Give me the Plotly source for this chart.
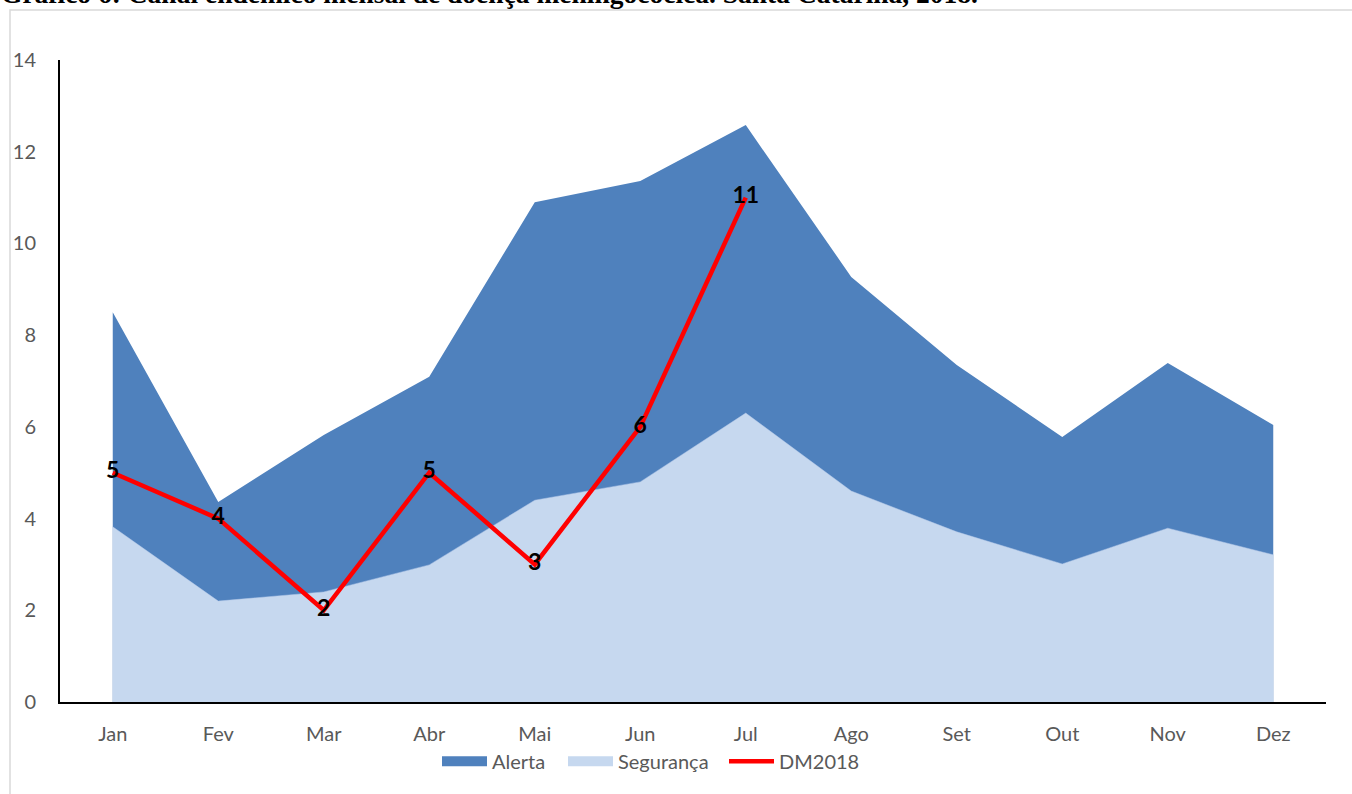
import plotly.graph_objects as go

# Canal endêmico mensal - doença meningocócica, SC 2018
meses = ["Jan", "Fev", "Mar", "Abr", "Mai", "Jun", "Jul", "Ago", "Set", "Out", "Nov", "Dez"]
alerta = [8.50, 4.36, 5.82, 7.09, 10.90, 11.36, 12.58, 9.27, 7.35, 5.78, 7.39, 6.04]
seguranca = [3.82, 2.20, 2.40, 2.99, 4.40, 4.80, 6.30, 4.60, 3.71, 3.01, 3.79, 3.21]
dm2018 = [5, 4, 2, 5, 3, 6, 11]

titulo = "Gráfico 6: Canal endêmico mensal de doença meningocócica. Santa Catarina, 2018."

COR_ALERTA = "#4f81bd"
COR_SEG = "#c6d8ef"
PLOT_W, PLOT_H = 1266, 642

fig = go.Figure()

fig.add_trace(go.Scatter(
    x=meses, y=alerta, name="Alerta", mode="lines", fill="tozeroy", showlegend=False,
    legendgroup="a", line=dict(width=0, color=COR_ALERTA), fillcolor=COR_ALERTA
))
fig.add_trace(go.Scatter(
    x=meses, y=seguranca, name="Segurança", mode="lines", fill="tozeroy", showlegend=False,
    legendgroup="s", line=dict(width=0.5, color="#b4c9e8"), fillcolor=COR_SEG
))
# legend proxies (wide block swatches like the Excel legend)
fig.add_trace(go.Scatter(x=[None], y=[None], name="Alerta", mode="lines", legendgroup="a",
                         legend="legend", line=dict(width=14, color=COR_ALERTA)))
fig.add_trace(go.Scatter(x=[None], y=[None], name="Segurança", mode="lines", legendgroup="s",
                         legend="legend2", line=dict(width=14, color=COR_SEG)))

fig.add_trace(go.Scatter(
    x=meses[:len(dm2018)], y=dm2018, name="DM2018", mode="lines+text", legend="legend3",
    line=dict(color="#ff0000", width=4.5),
    text=[str(v) for v in dm2018], textposition="middle center",
    textfont=dict(family="Lato", size=23, color="black", weight="bold")
))

# thin border of the original chart box
fig.add_shape(type="rect", xref="paper", yref="paper",
              x0=-50 / PLOT_W, x1=1.2, y0=-0.3, y1=1 + 50 / PLOT_H,
              line=dict(color="#d9d9d9", width=1.5), layer="below")

# title, cut at the top edge like the source page
fig.add_annotation(text="<b>" + titulo + "</b>", xref="paper", yref="paper",
                   x=-61 / PLOT_W, xanchor="left", y=1 + 49 / PLOT_H, yanchor="bottom",
                   showarrow=False,
                   font=dict(family="Liberation Serif", size=27.5, color="black"))


def leg(px):
    return dict(orientation="h", x=(px - 60) / PLOT_W, xanchor="left", y=-0.062,
                yanchor="top", font=dict(size=20, color="#595959"), itemwidth=45,
                bgcolor="rgba(0,0,0,0)")


fig.update_layout(
    width=1352, height=794,
    margin=dict(l=60, r=26, t=60, b=92, autoexpand=False),
    paper_bgcolor="white", plot_bgcolor="white",
    font=dict(family="Lato", size=20, color="#595959"),
    showlegend=True,
    legend=leg(437), legend2=leg(563), legend3=leg(724),
    xaxis=dict(type="category", range=[-0.5, 11.5], showline=True, linecolor="black",
               linewidth=2, showgrid=False, ticks="", ticklabelstandoff=13,
               automargin=False, tickfont=dict(size=20, color="#595959")),
    yaxis=dict(range=[0, 14], dtick=2, showline=True, linecolor="black", linewidth=2,
               showgrid=False, zeroline=False, ticks="", ticklabelstandoff=18,
               automargin=False, tickfont=dict(size=20, color="#595959")),
)

fig.write_html("out.html", config={"displayModeBar": False},
               post_script="document.body.style.margin='0';")
